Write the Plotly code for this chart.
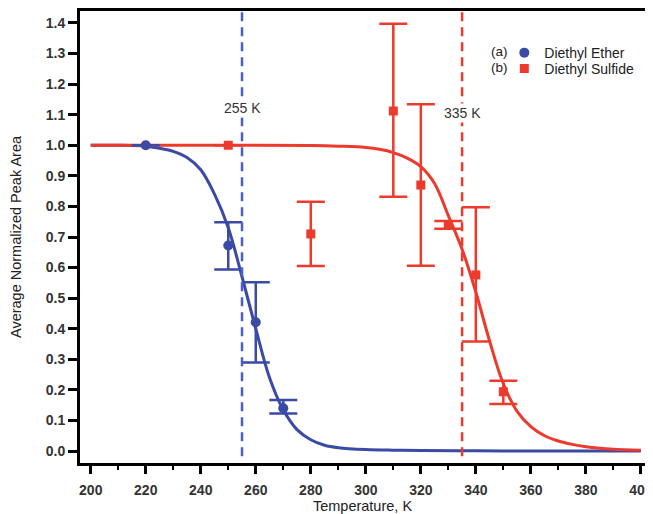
import plotly.graph_objects as go

# ---- data ----
ether_T = [220, 250, 260, 270]
ether_y = [1.0, 0.672, 0.421, 0.140]
ether_hi = [None, 0.748, 0.552, 0.167]
ether_lo = [None, 0.594, 0.290, 0.123]

sulfide_T = [250, 280, 310, 320, 330, 340, 350]
sulfide_y = [1.0, 0.710, 1.112, 0.870, 0.740, 0.576, 0.194]
sulfide_hi = [None, 0.815, 1.397, 1.134, 0.752, 0.797, 0.230]
sulfide_lo = [None, 0.605, 0.832, 0.606, 0.727, 0.358, 0.154]

# fitted curves
ether_fit_T = [200, 210, 220, 225, 230, 235, 240, 245, 250, 255, 260, 265, 270,
               275, 280, 285, 290, 300, 310, 320, 340, 360, 380, 400]
ether_fit_y = [1.0, 1.0, 0.997, 0.99, 0.98, 0.96, 0.92, 0.84, 0.73, 0.57, 0.40, 0.24,
               0.135, 0.07, 0.037, 0.019, 0.011, 0.005, 0.003, 0.002, 0.001, 0.0, 0.0, 0.0]
sulfide_fit_T = [200, 250, 280, 290, 300, 305, 310, 315, 320, 325, 330, 335, 340,
                 345, 350, 355, 360, 365, 370, 375, 380, 385, 390, 400]
sulfide_fit_y = [1.0, 1.0, 0.999, 0.997, 0.993, 0.987, 0.976, 0.958, 0.93, 0.875, 0.77,
                 0.66, 0.52, 0.36, 0.22, 0.13, 0.08, 0.05, 0.033, 0.022, 0.014, 0.009,
                 0.006, 0.003]

transitions = [255, 335]
transition_labels = ["255 K", "335 K"]
transition_label_y = [1.122, 1.106]

BLUE = "#3a4aa5"
BLUE_DASH = "#4a5fcc"
RED = "#ec3a2c"
FONT = "Arial, Liberation Sans, sans-serif"


def err(hi, lo, y):
    plus = [None if h is None else h - v for h, v in zip(hi, y)]
    minus = [None if l is None else v - l for l, v in zip(lo, y)]
    return plus, minus


fig = go.Figure()

fig.add_trace(go.Scatter(x=ether_fit_T, y=ether_fit_y, mode="lines",
                         line=dict(color=BLUE, width=3, shape="spline"),
                         showlegend=False, hoverinfo="skip"))
fig.add_trace(go.Scatter(x=sulfide_fit_T, y=sulfide_fit_y, mode="lines",
                         line=dict(color=RED, width=3, shape="spline"),
                         showlegend=False, hoverinfo="skip"))

ep, em = err(ether_hi, ether_lo, ether_y)
fig.add_trace(go.Scatter(x=ether_T, y=ether_y, mode="markers", name="Diethyl Ether",
                         marker=dict(symbol="circle", size=10, color=BLUE),
                         error_y=dict(type="data", symmetric=False, array=ep, arrayminus=em,
                                      color=BLUE, thickness=2.5, width=14),
                         legend="legend"))
sp, sm = err(sulfide_hi, sulfide_lo, sulfide_y)
fig.add_trace(go.Scatter(x=sulfide_T, y=sulfide_y, mode="markers", name="Diethyl Sulfide",
                         marker=dict(symbol="square", size=9, color=RED),
                         error_y=dict(type="data", symmetric=False, array=sp, arrayminus=sm,
                                      color=RED, thickness=2.5, width=14),
                         legend="legend2"))

for t, c in zip(transitions, [BLUE_DASH, RED]):
    fig.add_shape(type="line", xref="x", yref="paper", x0=t, x1=t, y0=0.015, y1=1,
                  line=dict(color=c, width=2.5, dash="9px,6px"))

for t, lab, ly in zip(transitions, transition_labels, transition_label_y):
    fig.add_annotation(x=t, y=ly, xref="x", yref="y", text=lab,
                       showarrow=False, font=dict(family=FONT, size=14, color="#333"),
                       bgcolor="white", xanchor="center", borderpad=1)

fig.add_annotation(x=0.724, y=1.305, xref="paper", yref="y", text="(a)", showarrow=False,
                   font=dict(family=FONT, size=13.5, color="#222"), xanchor="left")
fig.add_annotation(x=0.724, y=1.253, xref="paper", yref="y", text="(b)", showarrow=False,
                   font=dict(family=FONT, size=13.5, color="#222"), xanchor="left")

leg = dict(font=dict(family=FONT, size=14, color="#222"), bgcolor="rgba(0,0,0,0)",
           xanchor="left", yanchor="middle", itemwidth=30)

fig.update_layout(
    width=645, height=506,
    margin=dict(l=72, r=8, t=3, b=51),
    paper_bgcolor="white", plot_bgcolor="white",
    font=dict(family=FONT, color="#222"),
    legend=dict(x=0.751, y=0.907, **leg),
    legend2=dict(x=0.751, y=0.872, **leg),
    xaxis=dict(range=[196.1, 401.5], tickmode="linear", tick0=200, dtick=20,
               ticks="outside", ticklen=8, tickwidth=2.5, tickcolor="black",
               minor=dict(dtick=10, ticks="outside", ticklen=4, tickwidth=2, tickcolor="black"),
               showline=True, linewidth=3, linecolor="black", mirror=True,
               showgrid=False, zeroline=False, automargin=False, ticklabelstandoff=4,
               tickfont=dict(family=FONT, size=14, color="#333", weight="bold"),
               title=dict(text="Temperature, K", standoff=1,
                          font=dict(family=FONT, size=14.5, color="#222"))),
    yaxis=dict(range=[-0.039, 1.439], tickmode="linear", tick0=0, dtick=0.1, tickformat=".1f",
               ticks="outside", ticklen=9, tickwidth=2.5, tickcolor="black",
               showline=True, linewidth=3, linecolor="black", mirror=True,
               showgrid=False, zeroline=False, automargin=False,
               tickfont=dict(family=FONT, size=14, color="#333", weight="bold"),
               title=dict(text="Average Normalized Peak Area", standoff=21,
                          font=dict(family=FONT, size=14.5, color="#222"))),
)

fig.write_html("out.html")
